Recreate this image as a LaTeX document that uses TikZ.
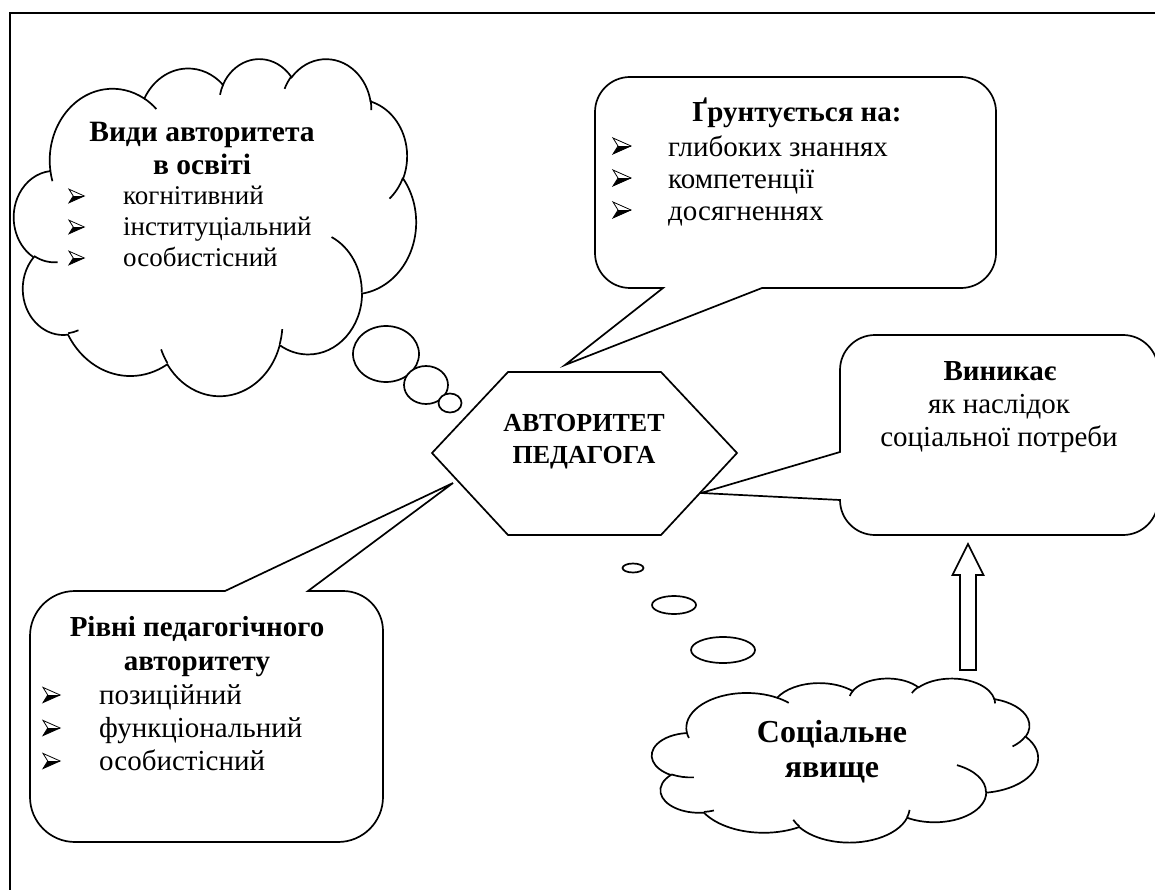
\documentclass[tikz,border=0pt]{standalone}
\usepackage{fontspec}
\setmainfont{Liberation Serif}
% one arc of the Word cloud outline: wR hR stAng swAng (visual angles, degrees)
\newcommand\cldarc[4]{%
  \pgfextra{%
    \pgfmathsetmacro\cldA{atan2((#1)*sin(#3),(#2)*cos(#3))}%
    \pgfmathsetmacro\cldB{atan2((#1)*sin((#3)+(#4)),(#2)*cos((#3)+(#4)))}%
    \pgfmathsetmacro\cldD{\cldB-\cldA}%
    \pgfmathsetmacro\cldD{\cldD+360*and(#4>0,\cldD<0)-360*and(#4<0,\cldD>0)}%
    \pgfmathsetmacro\cldRx{(#1)*\cldsx}%
    \pgfmathsetmacro\cldRy{(#2)*\cldsy}%
    \global\let\cldA\cldA\global\let\cldD\cldD
    \global\let\cldRx\cldRx\global\let\cldRy\cldRy}%
  arc[start angle=\cldA, delta angle=\cldD, x radius=\cldRx, y radius=\cldRy]}
\newcommand\cldpt[2]{({\cldX+(#1)*\cldsx},{\cldY+(#2)*\cldsy})}
\newcommand\wordcloud[4]{% X0 Y0 W H
  \pgfmathsetmacro\cldsx{(#3)/432}\pgfmathsetmacro\cldsy{(#4)/432}%
  \def\cldX{#1}\def\cldY{#2}%
  \draw[shapeline,fill=white] \cldpt{39.00}{143.70}
    \cldarc{67.53}{91.90}{-190.4875}{123.7805}
    \cldarc{53.33}{72.67}{-144.1024}{89.9452}
    \cldarc{43.65}{59.45}{-145.8079}{99.7230}
    \cldarc{48.57}{65.95}{-130.9861}{117.2417}
    \cldarc{53.33}{72.73}{-78.7089}{109.0269}
    \cldarc{67.75}{92.20}{-46.2673}{130.2690}
    \cldarc{57.85}{78.67}{0.6250}{114.0333}
    \cldarc{67.52}{92.15}{22.4516}{115.1726}
    \cldarc{77.20}{105.43}{66.2426}{75.7110}
    \cldarc{43.60}{59.18}{-274.9421}{146.7356}
    \cldarc{43.45}{59.45}{-246.8285}{152.5189} -- cycle;
  \draw[shapeline] \cldpt{46.93}{261.77} \cldarc{43.45}{59.45}{86.742}{26.4295};
  \draw[shapeline] \cldpt{69.28}{348.99} \cldarc{43.60}{59.18}{73.6105}{11.4475};
  \draw[shapeline] \cldpt{164.78}{390.90} \cldarc{67.52}{92.15}{137.6242}{14.0811};
  \draw[shapeline] \cldpt{288.27}{347.51} \cldarc{67.52}{92.15}{6.4533}{15.9984};
  \draw[shapeline] \cldpt{341.29}{229.54} \cldarc{57.85}{78.67}{-70.2924}{70.9174};
  \draw[shapeline] \cldpt{417.98}{153.54} \cldarc{53.33}{72.73}{30.3180}{27.7515};
  \draw[shapeline] \cldpt{383.24}{54.26} \cldarc{48.57}{65.95}{-13.7443}{14.8589};
  \draw[shapeline] \cldpt{290.78}{39.52} \cldarc{48.57}{65.95}{-149.1815}{18.1954};
  \draw[shapeline] \cldpt{221.41}{47.20} \cldarc{43.65}{59.45}{-163.4943}{17.6864};
  \draw[shapeline] \cldpt{140.00}{51.92} \cldarc{67.53}{91.90}{-66.7070}{12.3194};
  \draw[shapeline] \cldpt{41.27}{157.89} \cldarc{67.53}{91.90}{157.6544}{11.8582};
}
\begin{document}
\begin{tikzpicture}[x=1pt,y=-1pt,
  shapeline/.style={line width=1.7pt},
  ttl/.style={inner sep=0pt, anchor=base, font=\fontsize{#1}{#1}\selectfont\bfseries},
  itm/.style={inner sep=0pt, anchor=base west, font=\fontsize{#1}{#1}\selectfont},
  ctr/.style={inner sep=0pt, anchor=base, font=\fontsize{#1}{#1}\selectfont},
  arrbul/.pic={
    \fill[black] (5,0.5) -- (18,0) -- (0,8) -- cycle;
    \draw[line width=0.8pt, line join=miter] (0,-8) -- (18,0) -- (0,8) -- (5,0) -- cycle;
    \draw[line width=0.6pt] (5,0) -- (18,0);
  }]
\useasboundingbox (0,0) rectangle (1155,890);
\clip (0,0) rectangle (1155,890);
\fill[white] (0,0) rectangle (1155,890);
% frame
\draw[shapeline] (10,895) -- (10,13) -- (1160,13);

% top-left thought cloud
\wordcloud{14}{58}{402}{337}
\draw[shapeline,fill=white] (386,354) ellipse[x radius=33, y radius=28];
\draw[shapeline,fill=white] (426,385) ellipse[x radius=22, y radius=19];
\draw[shapeline,fill=white] (450,403) ellipse[x radius=11.5, y radius=9.5];
\node[ttl=29.5] (v1) at (202,142) {Види авторитета};
\node[ttl=29.5] (v2) at (202,175) {в освіті};
\pic[scale=0.85] at (69,196) {arrbul}; \node[itm=27] (vi1) at (123,205) {когнітивний};
\pic[scale=0.85] at (69,227) {arrbul}; \node[itm=27] (vi2) at (123,236) {інституціальний};
\pic[scale=0.85] at (69,258) {arrbul}; \node[itm=27] (vi3) at (123,267) {особистісний};

% top callout
\draw[shapeline,fill=white] (630,77) -- (961,77) arc[start angle=-90,end angle=0,radius=35]
  -- (996,253) arc[start angle=0,end angle=90,radius=35]
  -- (762,288) -- (565,365) -- (663,288)
  -- (630,288) arc[start angle=90,end angle=180,radius=35]
  -- (595,112) arc[start angle=180,end angle=270,radius=35] -- cycle;
\node[ttl=29] (g0) at (797,122) {Ґрунтується на:};
\pic at (613,146) {arrbul}; \node[itm=29] (gi1) at (668,157) {глибоких знаннях};
\pic at (613,178) {arrbul}; \node[itm=29] (gi2) at (668,189) {компетенції};
\pic at (613,210) {arrbul}; \node[itm=29] (gi3) at (668,221) {досягненнях};

% right callout
\draw[shapeline,fill=white] (875,335) -- (1123,335) arc[start angle=-90,end angle=0,radius=35]
  -- (1158,500) arc[start angle=0,end angle=90,radius=35]
  -- (875,535) arc[start angle=90,end angle=180,radius=35]
  -- (701,493) -- (840,452)
  -- (840,370) arc[start angle=180,end angle=270,radius=35] -- cycle;
\node[ttl=29] (w1) at (1000,380) {Виникає};
\node[ctr=29] (w2) at (999,413) {як наслідок};
\node[ctr=29] (w3) at (999,446) {соціальної потреби};

% bottom-left callout
\draw[shapeline,fill=white] (75,591) -- (225,591) -- (453,483) -- (308,591)
  -- (343,591) arc[start angle=-90,end angle=0,radius=40]
  -- (383,797) arc[start angle=0,end angle=90,radius=45]
  -- (75,842) arc[start angle=90,end angle=180,radius=45]
  -- (30,636) arc[start angle=180,end angle=270,radius=45] -- cycle;
\node[ttl=29] (r1) at (197,636) {Рівні педагогічного};
\node[ttl=29] (r2) at (197,670) {авторитету};
\pic[scale=0.95] at (43,695) {arrbul}; \node[itm=29] (ri1) at (99,704) {позиційний};
\pic[scale=0.95] at (43,728) {arrbul}; \node[itm=29] (ri2) at (99,737) {функціональний};
\pic[scale=0.95] at (43,761) {arrbul}; \node[itm=29] (ri3) at (99,770) {особистісний};

% hexagon
\draw[shapeline,fill=white] (432,453) -- (508,372) -- (661,372) -- (737,453) -- (661,535) -- (508,535) -- cycle;
\node[ttl=26] (h1) at (584,431) {АВТОРИТЕТ};
\node[ttl=26] (h2) at (584,463) {ПЕДАГОГА};

% bottom thought bubbles
\draw[shapeline,fill=white] (633,568) ellipse[x radius=10.5, y radius=4.5];
\draw[shapeline,fill=white] (674,605) ellipse[x radius=22, y radius=9];
\draw[shapeline,fill=white] (723,650) ellipse[x radius=32, y radius=13];

% bottom cloud
\wordcloud{652}{678}{386}{164}
\node[ttl=32] (s1) at (832,742) {Соціальне};
\node[ttl=32] (s2) at (832,777) {явище};

% block arrow
\draw[shapeline,fill=white] (968,544) -- (983.5,575) -- (976,575) -- (976,670)
  -- (960,670) -- (960,575) -- (952.5,575) -- cycle;
\end{tikzpicture}
\end{document}
